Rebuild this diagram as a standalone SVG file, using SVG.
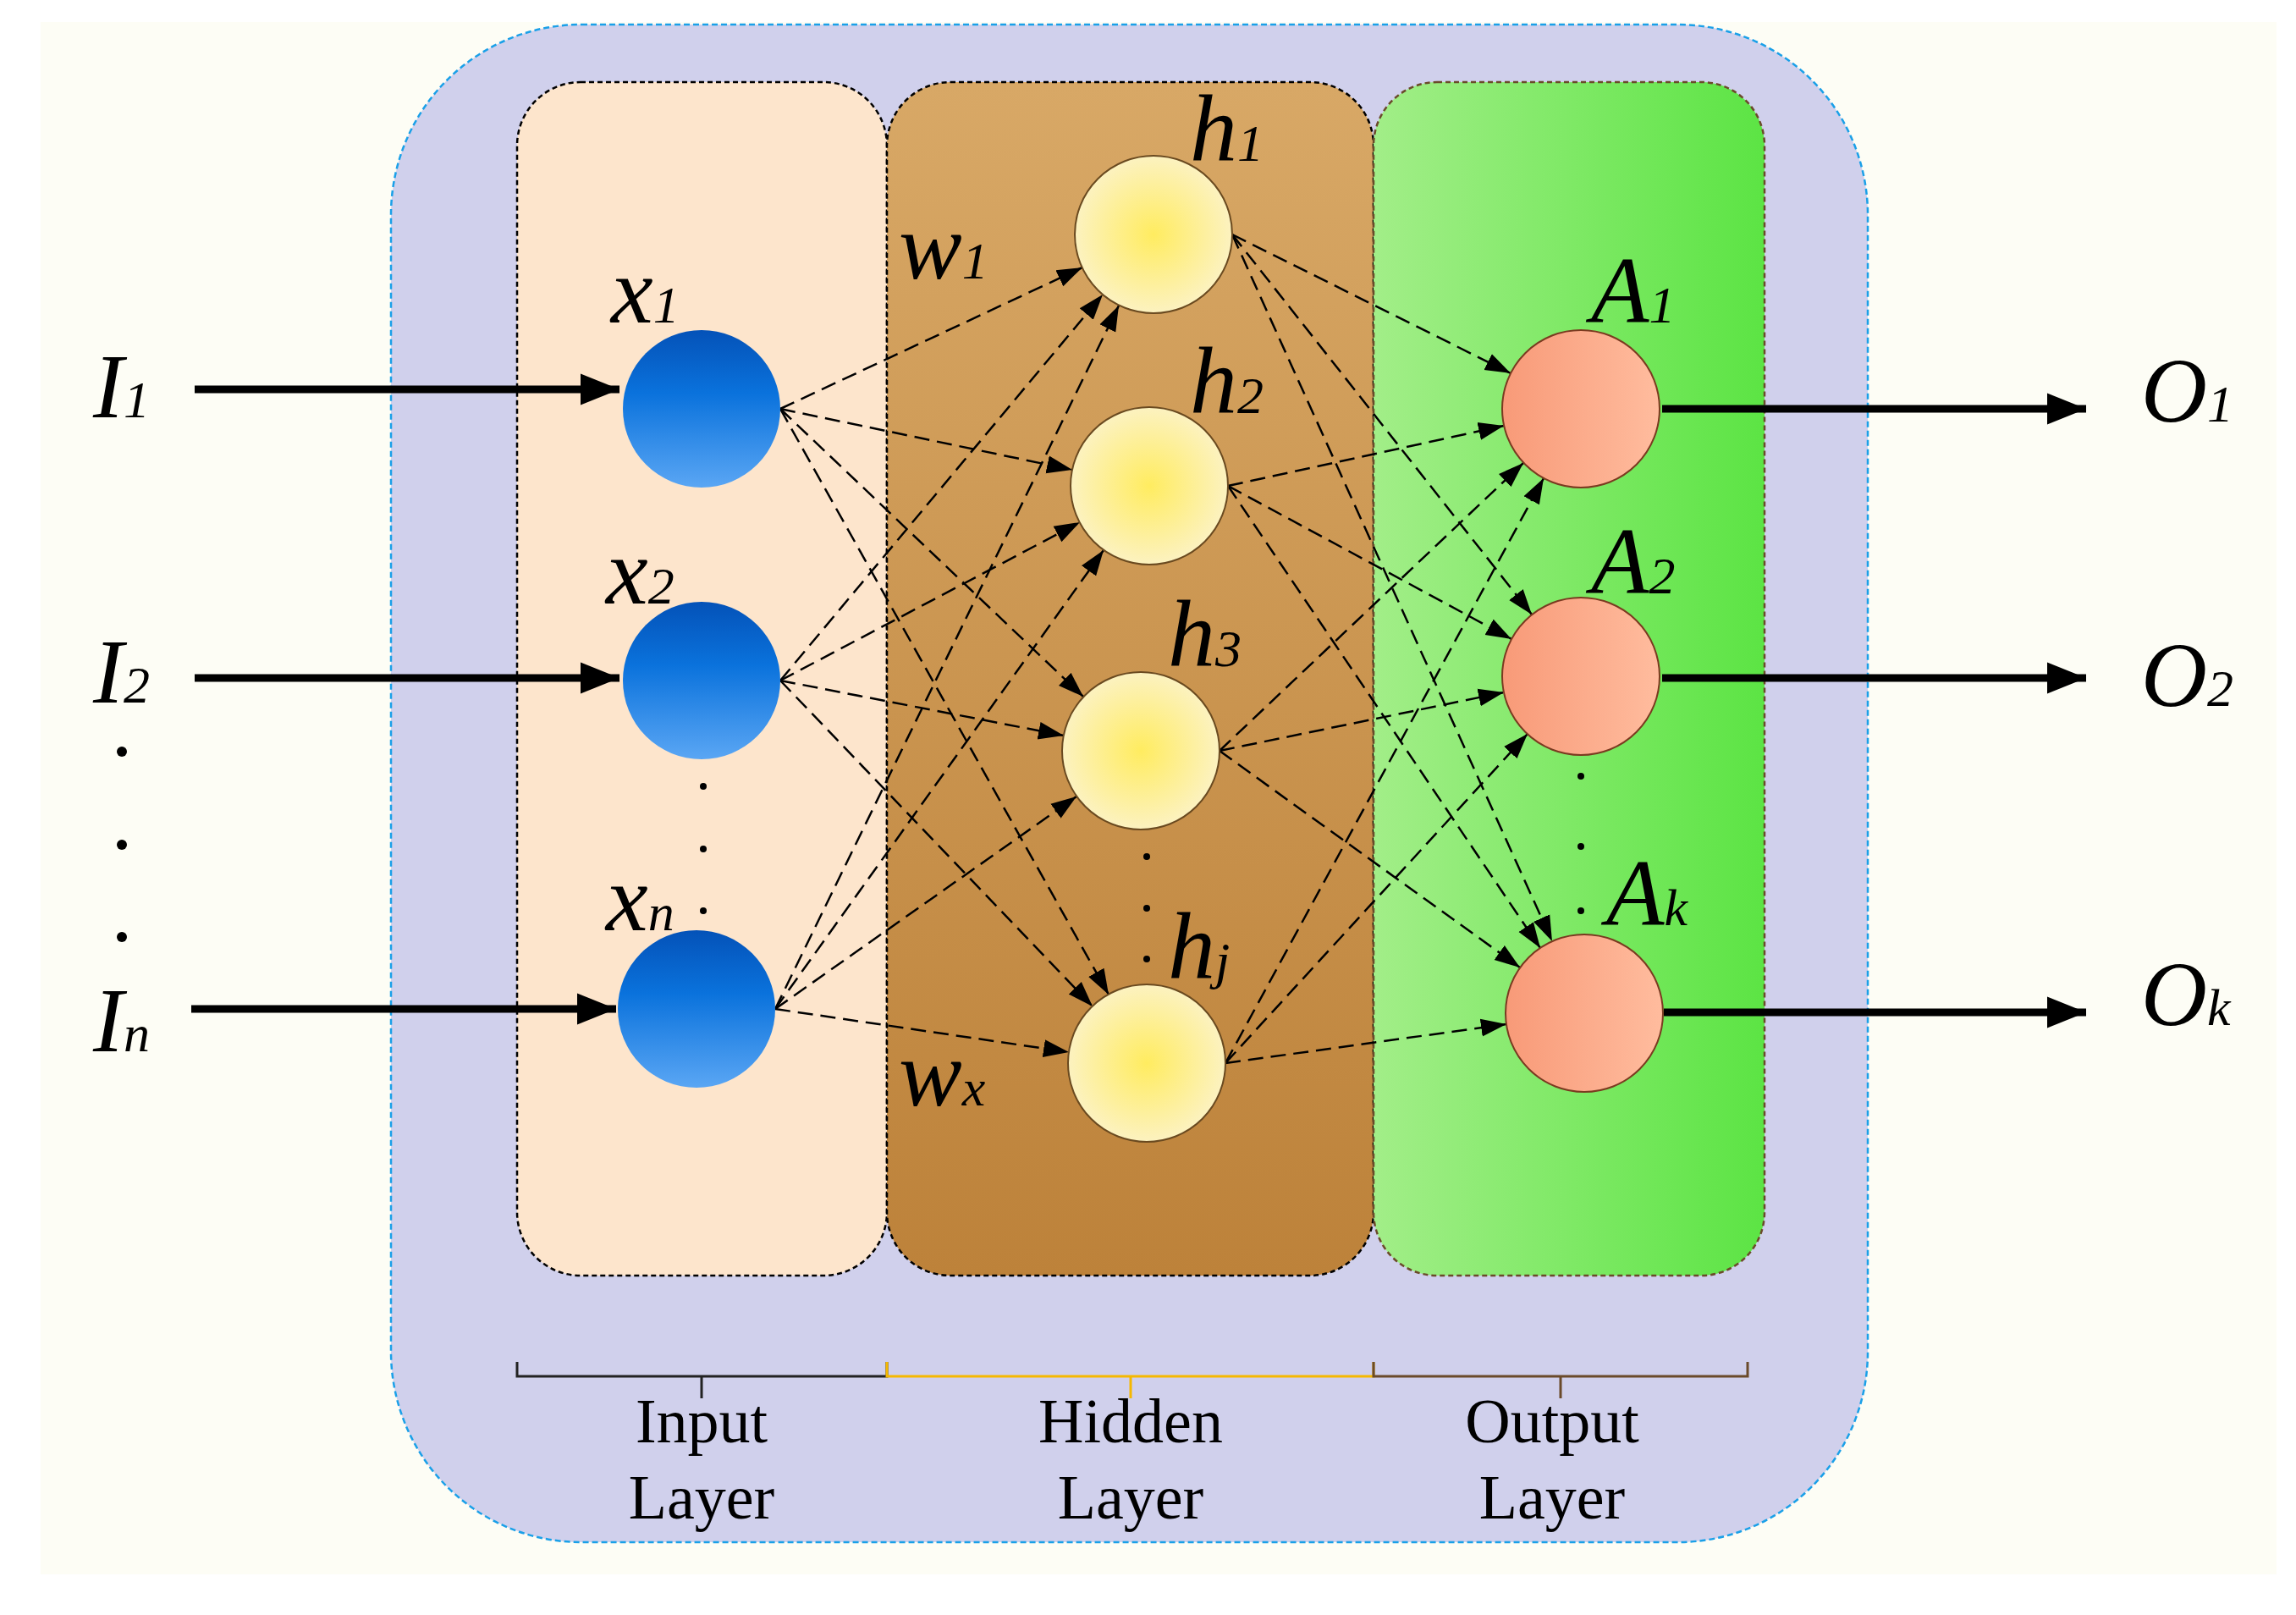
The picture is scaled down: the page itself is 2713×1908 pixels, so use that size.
<svg xmlns="http://www.w3.org/2000/svg" width="2713" height="1908" viewBox="0 0 2713 1908">
<style>
.lab{font-family:"Liberation Serif",serif;font-style:italic;fill:#000}
.big{font-size:108px}.mid{font-size:112px}.sub{font-size:62px}
.cap{font-family:"Liberation Serif",serif;font-size:74px;fill:#000;text-anchor:middle}
.dash{stroke:#000;stroke-width:2.5;stroke-dasharray:18 9;fill:none;marker-end:url(#ah)}
.thick{stroke:#000;stroke-width:9;fill:none;marker-end:url(#ahb)}
</style>
<defs>
<marker id="ah" viewBox="0 0 10 10" refX="10" refY="5" markerWidth="30" markerHeight="30" markerUnits="userSpaceOnUse" orient="auto"><path d="M0,1.5L10,5L0,8.5z"/></marker>
<marker id="ahb" viewBox="0 0 10 10" refX="10" refY="5" markerWidth="46" markerHeight="46" markerUnits="userSpaceOnUse" orient="auto"><path d="M0,1L10,5L0,9z"/></marker>
<linearGradient id="gin" x1="0" y1="0" x2="0" y2="1"><stop offset="0" stop-color="#0452b8"/><stop offset="0.4" stop-color="#0a72dc"/><stop offset="1" stop-color="#5aa6f4"/></linearGradient>
<radialGradient id="ghid"><stop offset="0" stop-color="#ffec60"/><stop offset="1" stop-color="#fcf2c0"/></radialGradient>
<linearGradient id="gout" x1="0" y1="0" x2="1" y2="0"><stop offset="0" stop-color="#f89a78"/><stop offset="1" stop-color="#ffbc9e"/></linearGradient>
<linearGradient id="ghp" x1="0" y1="0" x2="0" y2="1"><stop offset="0" stop-color="#d8a866"/><stop offset="1" stop-color="#bd823a"/></linearGradient>
<linearGradient id="gop" x1="0" y1="0" x2="1" y2="0"><stop offset="0" stop-color="#a2ee88"/><stop offset="1" stop-color="#5ce444"/></linearGradient>
</defs>
<rect width="2713" height="1908" fill="#fff"/>
<rect x="48" y="26" width="2642" height="1834" fill="#fdfdf5"/>
<rect x="462" y="29" width="1745" height="1793" rx="225" fill="#d0d0ec" stroke="#1aa0e8" stroke-width="2.5" stroke-dasharray="7 4"/>
<g id="panels">
<rect x="611" y="97" width="437" height="1410" rx="75" fill="#fde5cc" stroke="#000" stroke-width="2.5" stroke-dasharray="6 4"/>
<rect x="1048" y="97" width="575" height="1410" rx="75" fill="url(#ghp)" stroke="#000" stroke-width="2.5" stroke-dasharray="6 4"/>
<rect x="1623" y="97" width="462" height="1410" rx="75" fill="url(#gop)" stroke="#6a4a2a" stroke-width="2.5" stroke-dasharray="6 4"/>
</g>
<g id="connectors">
<line class="thick" x1="230" y1="460" x2="732" y2="460"/>
<line class="thick" x1="230" y1="801" x2="732" y2="801"/>
<line class="thick" x1="226" y1="1192" x2="728" y2="1192"/>
<line class="thick" x1="1964" y1="483" x2="2465" y2="483"/>
<line class="thick" x1="1964" y1="801" x2="2465" y2="801"/>
<line class="thick" x1="1966" y1="1196" x2="2465" y2="1196"/>
<line class="dash" x1="922" y1="483" x2="1279" y2="316"/>
<line class="dash" x1="922" y1="483" x2="1267" y2="555"/>
<line class="dash" x1="922" y1="483" x2="1280" y2="823"/>
<line class="dash" x1="922" y1="483" x2="1310" y2="1175"/>
<line class="dash" x1="922" y1="804" x2="1303" y2="348"/>
<line class="dash" x1="922" y1="804" x2="1276" y2="617"/>
<line class="dash" x1="922" y1="804" x2="1257" y2="869"/>
<line class="dash" x1="922" y1="804" x2="1291" y2="1189"/>
<line class="dash" x1="916" y1="1192" x2="1322" y2="361"/>
<line class="dash" x1="916" y1="1192" x2="1304" y2="650"/>
<line class="dash" x1="916" y1="1192" x2="1272" y2="941"/>
<line class="dash" x1="916" y1="1192" x2="1263" y2="1243"/>
<line class="dash" x1="1456" y1="277" x2="1785" y2="441"/>
<line class="dash" x1="1456" y1="277" x2="1810" y2="726"/>
<line class="dash" x1="1456" y1="277" x2="1834" y2="1112"/>
<line class="dash" x1="1451" y1="574" x2="1777" y2="503"/>
<line class="dash" x1="1451" y1="574" x2="1786" y2="755"/>
<line class="dash" x1="1451" y1="574" x2="1820" y2="1120"/>
<line class="dash" x1="1441" y1="887" x2="1800" y2="547"/>
<line class="dash" x1="1441" y1="887" x2="1777" y2="818"/>
<line class="dash" x1="1441" y1="887" x2="1796" y2="1143"/>
<line class="dash" x1="1448" y1="1256" x2="1824" y2="565"/>
<line class="dash" x1="1448" y1="1256" x2="1805" y2="867"/>
<line class="dash" x1="1448" y1="1256" x2="1780" y2="1210"/>
</g>
<g id="x1"><circle cx="829" cy="483" r="93" fill="url(#gin)"/></g>
<g id="x2"><circle cx="829" cy="804" r="93" fill="url(#gin)"/></g>
<g id="xn"><circle cx="823" cy="1192" r="93" fill="url(#gin)"/></g>
<g id="h1"><circle cx="1363" cy="277" r="93" fill="url(#ghid)" stroke="#6a4a20" stroke-width="2"/></g>
<g id="h2"><circle cx="1358" cy="574" r="93" fill="url(#ghid)" stroke="#6a4a20" stroke-width="2"/></g>
<g id="h3"><circle cx="1348" cy="887" r="93" fill="url(#ghid)" stroke="#6a4a20" stroke-width="2"/></g>
<g id="hj"><circle cx="1355" cy="1256" r="93" fill="url(#ghid)" stroke="#6a4a20" stroke-width="2"/></g>
<g id="A1"><circle cx="1868" cy="483" r="93" fill="url(#gout)" stroke="#7a3a20" stroke-width="2"/></g>
<g id="A2"><circle cx="1868" cy="799" r="93" fill="url(#gout)" stroke="#7a3a20" stroke-width="2"/></g>
<g id="Ak"><circle cx="1872" cy="1197" r="93" fill="url(#gout)" stroke="#7a3a20" stroke-width="2"/></g>
<g id="dots" fill="#000">
<circle cx="144" cy="888" r="6"/><circle cx="144" cy="998" r="6"/><circle cx="144" cy="1107" r="6"/>
<circle cx="831" cy="929" r="4"/><circle cx="831" cy="1003" r="4"/><circle cx="831" cy="1076" r="4"/>
<circle cx="1355" cy="1012" r="4"/><circle cx="1355" cy="1073" r="4"/><circle cx="1355" cy="1133" r="4"/>
<circle cx="1868" cy="917" r="4"/><circle cx="1868" cy="1000" r="4"/><circle cx="1868" cy="1076" r="4"/>
</g>
<g id="labels">
<text class="lab big" x="110" y="493">I<tspan class="sub">1</tspan></text>
<text class="lab big" x="110" y="830">I<tspan class="sub">2</tspan></text>
<text class="lab big" x="110" y="1242">I<tspan class="sub">n</tspan></text>
<text class="lab big" x="2530" y="498">O<tspan class="sub">1</tspan></text>
<text class="lab big" x="2530" y="834">O<tspan class="sub">2</tspan></text>
<text class="lab big" x="2530" y="1211">O<tspan class="sub">k</tspan></text>
<text class="lab mid" x="722" y="381">x<tspan class="sub">1</tspan></text>
<text class="lab mid" x="716" y="713">x<tspan class="sub">2</tspan></text>
<text class="lab mid" x="716" y="1099">x<tspan class="sub">n</tspan></text>
<text class="lab mid" x="1406" y="190">h<tspan class="sub">1</tspan></text>
<text class="lab mid" x="1406" y="488">h<tspan class="sub">2</tspan></text>
<text class="lab mid" x="1380" y="787">h<tspan class="sub">3</tspan></text>
<text class="lab mid" x="1380" y="1156">h<tspan class="sub">j</tspan></text>
<text class="lab mid" x="1880" y="381">A<tspan class="sub">1</tspan></text>
<text class="lab mid" x="1880" y="701">A<tspan class="sub">2</tspan></text>
<text class="lab mid" x="1898" y="1093">A<tspan class="sub">k</tspan></text>
<text class="lab mid" x="1062" y="329">w<tspan class="sub">1</tspan></text>
<text class="lab mid" x="1062" y="1306">w<tspan class="sub">x</tspan></text>
</g>
<g id="braces" fill="none" stroke-width="3">
<path d="M611,1609V1626H1048V1609M829,1626V1652" stroke="#222"/>
<path d="M1048,1609V1626H1623V1609M1336,1626V1652" stroke="#f5b800"/>
<path d="M1623,1609V1626H2065V1609M1844,1626V1652" stroke="#6a4a2a"/>
</g>
<g id="layer-labels">
<text class="cap" x="829" y="1704">Input</text><text class="cap" x="829" y="1794">Layer</text>
<text class="cap" x="1336" y="1704">Hidden</text><text class="cap" x="1336" y="1794">Layer</text>
<text class="cap" x="1834" y="1704">Output</text><text class="cap" x="1834" y="1794">Layer</text>
</g>
</svg>
